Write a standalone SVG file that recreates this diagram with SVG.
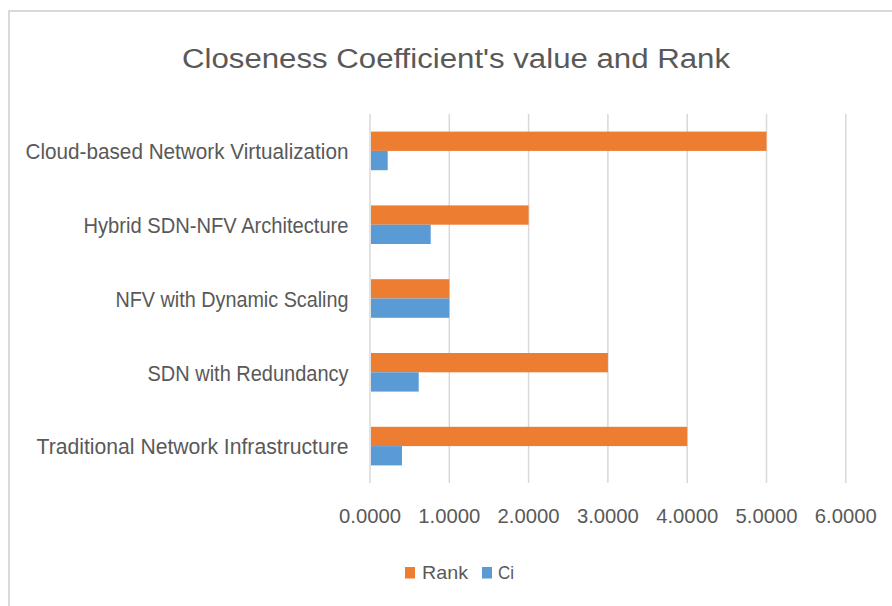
<svg xmlns="http://www.w3.org/2000/svg" width="892" height="606" viewBox="0 0 892 606">
<style>
text{font-family:"Liberation Sans",Arial,sans-serif;fill:#595959}
.grid{stroke:#D9D9D9;stroke-width:1.5}
.rank{fill:#ED7D31}
.ci{fill:#5B9BD5}
.cat{font-size:22px;text-anchor:end}
.tick{font-size:21px;text-anchor:middle}
.leg{font-size:18.5px}
</style>
<rect x="0" y="0" width="892" height="606" fill="#fff"/>
<g id="frame">
<path d="M9 606V11H892" fill="none" stroke="#D9D9D9" stroke-width="2"/>
</g>
<g id="title">
<text x="182" y="67.5" font-size="27" textLength="548" lengthAdjust="spacingAndGlyphs">Closeness Coefficient's value and Rank</text>
</g>
<g id="gridlines">
<line class="grid" x1="370" y1="114" x2="370" y2="483"/>
<line class="grid" x1="449.3" y1="114" x2="449.3" y2="483"/>
<line class="grid" x1="528.6" y1="114" x2="528.6" y2="483"/>
<line class="grid" x1="607.9" y1="114" x2="607.9" y2="483"/>
<line class="grid" x1="687.2" y1="114" x2="687.2" y2="483"/>
<line class="grid" x1="766.5" y1="114" x2="766.5" y2="483"/>
<line class="grid" x1="845.8" y1="114" x2="845.8" y2="483"/>
</g>
<g id="bars">
<g id="cloud">
<rect class="rank" x="371" y="131.6" width="395.5" height="19.3"/>
<rect class="ci" x="371" y="150.9" width="16.7" height="19.3"/>
</g>
<g id="hybrid">
<rect class="rank" x="371" y="205.4" width="157.6" height="19.3"/>
<rect class="ci" x="371" y="224.7" width="59.7" height="19.3"/>
</g>
<g id="nfv">
<rect class="rank" x="371" y="279.2" width="78.3" height="19.3"/>
<rect class="ci" x="371" y="298.5" width="78.3" height="19.3"/>
</g>
<g id="sdn">
<rect class="rank" x="371" y="353" width="236.9" height="19.3"/>
<rect class="ci" x="371" y="372.3" width="47.7" height="19.3"/>
</g>
<g id="trad">
<rect class="rank" x="371" y="426.8" width="316.2" height="19.3"/>
<rect class="ci" x="371" y="446.1" width="31" height="19.3"/>
</g>
</g>
<g id="category-labels">
<text class="cat" x="348.5" y="159.3" textLength="323" lengthAdjust="spacingAndGlyphs">Cloud-based Network Virtualization</text>
<text class="cat" x="348.5" y="233" textLength="265" lengthAdjust="spacingAndGlyphs">Hybrid SDN-NFV Architecture</text>
<text class="cat" x="348.5" y="306.8" textLength="233" lengthAdjust="spacingAndGlyphs">NFV with Dynamic Scaling</text>
<text class="cat" x="348.5" y="380.6" textLength="201" lengthAdjust="spacingAndGlyphs">SDN with Redundancy</text>
<text class="cat" x="348.5" y="454.4" textLength="312" lengthAdjust="spacingAndGlyphs">Traditional Network Infrastructure</text>
</g>
<g id="tick-labels">
<text class="tick" x="370" y="523.3" textLength="62" lengthAdjust="spacingAndGlyphs">0.0000</text>
<text class="tick" x="449.3" y="523.3" textLength="62" lengthAdjust="spacingAndGlyphs">1.0000</text>
<text class="tick" x="528.6" y="523.3" textLength="62" lengthAdjust="spacingAndGlyphs">2.0000</text>
<text class="tick" x="607.9" y="523.3" textLength="62" lengthAdjust="spacingAndGlyphs">3.0000</text>
<text class="tick" x="687.2" y="523.3" textLength="62" lengthAdjust="spacingAndGlyphs">4.0000</text>
<text class="tick" x="766.5" y="523.3" textLength="62" lengthAdjust="spacingAndGlyphs">5.0000</text>
<text class="tick" x="845.8" y="523.3" textLength="62" lengthAdjust="spacingAndGlyphs">6.0000</text>
</g>
<g id="legend">
<rect class="rank" x="405" y="567" width="10" height="11.5"/>
<text class="leg" x="422" y="579.3" textLength="46" lengthAdjust="spacingAndGlyphs">Rank</text>
<rect class="ci" x="482" y="567" width="10" height="11.5"/>
<text class="leg" x="498" y="579.3" textLength="16" lengthAdjust="spacingAndGlyphs">Ci</text>
</g>
</svg>
